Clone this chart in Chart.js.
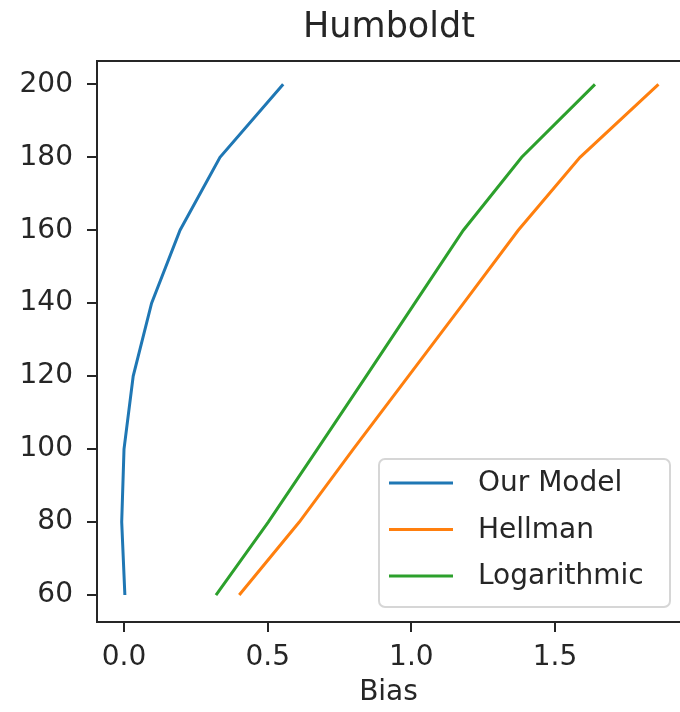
<!DOCTYPE html>
<html>
<head>
<meta charset="utf-8">
<title>Humboldt</title>
<script src="https://cdn.jsdelivr.net/npm/chart.js@4.4.1/dist/chart.umd.min.js"></script>
<style>
  html, body { margin: 0; padding: 0; background: #fff; }
  #wrap { width: 680px; height: 712px; }
</style>
</head>
<body>
<div id="wrap"><canvas id="biasChart" width="680" height="712"></canvas></div>
<script>
// heights (m) and bias of each profile method
const heights = [60, 80, 100, 120, 140, 160, 180, 200];
const ourModel = [0.003, -0.008, 0.0, 0.032, 0.096, 0.195, 0.334, 0.554];
const hellman = [0.401, 0.610, 0.798, 0.990, 1.182, 1.372, 1.587, 1.860];
const logarithmic = [0.320, 0.502, 0.673, 0.843, 1.012, 1.181, 1.384, 1.639];

const xTicks = [0, 0.5, 1.0, 1.5];
const yTicks = [60, 80, 100, 120, 140, 160, 180, 200];

const seriesNames = ['Our Model', 'Hellman', 'Logarithmic'];
const seriesColors = ['#1f77b4', '#ff7f0e', '#2ca02c'];
const chartTitle = 'Humboldt';

const FONT = 'DejaVu Sans';
const INK = '#262626';

function toPoints(xs) {
  return xs.map((v, i) => ({x: v, y: heights[i]}));
}

// axes frame; the right spine sits just past the canvas edge.
// title is centred over the axes rather than the whole canvas
const frame = {
  id: 'frame',
  afterDatasetsDraw(chart) {
    const {ctx, chartArea: a} = chart;
    ctx.save();
    ctx.strokeStyle = INK;
    ctx.lineWidth = 2;
    ctx.strokeRect(a.left, a.top, chart.width + 10 - a.left, a.bottom - a.top);
    ctx.font = '35px "' + FONT + '"';
    ctx.fillStyle = INK;
    ctx.textAlign = 'center';
    ctx.textBaseline = 'middle';
    ctx.fillText(chartTitle, (a.left + a.right + 1) / 2, a.top - 33);
    ctx.restore();
  }
};

// legend box in the lower right corner of the axes
const cornerLegend = {
  id: 'cornerLegend',
  afterDraw(chart) {
    const {ctx, chartArea: a} = chart;
    const w = 291, h = 148, rowH = 46.5;
    const x0 = a.right - 10 - w;
    const y0 = a.bottom - 15 - h;
    ctx.save();
    ctx.beginPath();
    ctx.roundRect(x0, y0, w, h, 6);
    ctx.fillStyle = 'rgba(255,255,255,0.8)';
    ctx.fill();
    ctx.strokeStyle = 'rgba(204,204,204,0.8)';
    ctx.lineWidth = 2;
    ctx.stroke();
    ctx.font = '28px "' + FONT + '"';
    ctx.textBaseline = 'middle';
    ctx.fillStyle = INK;
    chart.data.datasets.forEach((ds, i) => {
      const yy = y0 + 24 + i * rowH;
      ctx.beginPath();
      ctx.moveTo(x0 + 10, yy);
      ctx.lineTo(x0 + 74, yy);
      ctx.strokeStyle = ds.borderColor;
      ctx.lineWidth = 3;
      ctx.stroke();
      ctx.fillText(ds.label, x0 + 99, yy + 1);
    });
    ctx.restore();
  }
};

const datasets = [ourModel, hellman, logarithmic].map((vals, i) => ({
  label: seriesNames[i],
  data: toPoints(vals),
  borderColor: seriesColors[i],
  backgroundColor: seriesColors[i],
  borderWidth: 3,
  pointRadius: 0,
  tension: 0,
  fill: false
}));

new Chart(document.getElementById('biasChart').getContext('2d'), {
  type: 'line',
  data: {datasets: datasets},
  options: {
    responsive: false,
    animation: false,
    devicePixelRatio: 1,
    layout: {padding: {left: 0, right: 0, top: 61, bottom: 0}},
    scales: {
      x: {
        type: 'linear',
        min: -0.094,
        max: 1.935,
        afterBuildTicks: s => { s.ticks = xTicks.map(v => ({value: v})); },
        afterFit: s => { s.height = 90; },
        border: {display: false},
        grid: {drawOnChartArea: false, drawTicks: true, tickLength: 10, color: INK, lineWidth: 2},
        ticks: {
          color: INK,
          padding: 9,
          maxRotation: 0,
          font: {family: FONT, size: 28},
          callback: v => Number(v).toFixed(1)
        },
        title: {
          display: true,
          text: 'Bias',
          color: INK,
          font: {family: FONT, size: 28},
          padding: {top: 0, bottom: 2}
        }
      },
      y: {
        type: 'linear',
        min: 52.6,
        max: 206.4,
        afterBuildTicks: s => { s.ticks = yTicks.map(v => ({value: v})); },
        afterFit: s => { s.width = 97; },
        border: {display: false},
        grid: {drawOnChartArea: false, drawTicks: true, tickLength: 10, color: INK, lineWidth: 2},
        ticks: {
          color: INK,
          padding: 14,
          font: {family: FONT, size: 28},
          callback: v => String(v)
        }
      }
    },
    plugins: {
      legend: {display: false},
      tooltip: {enabled: false},
      title: {display: false}
    }
  },
  plugins: [frame, cornerLegend]
});
</script>
</body>
</html>
